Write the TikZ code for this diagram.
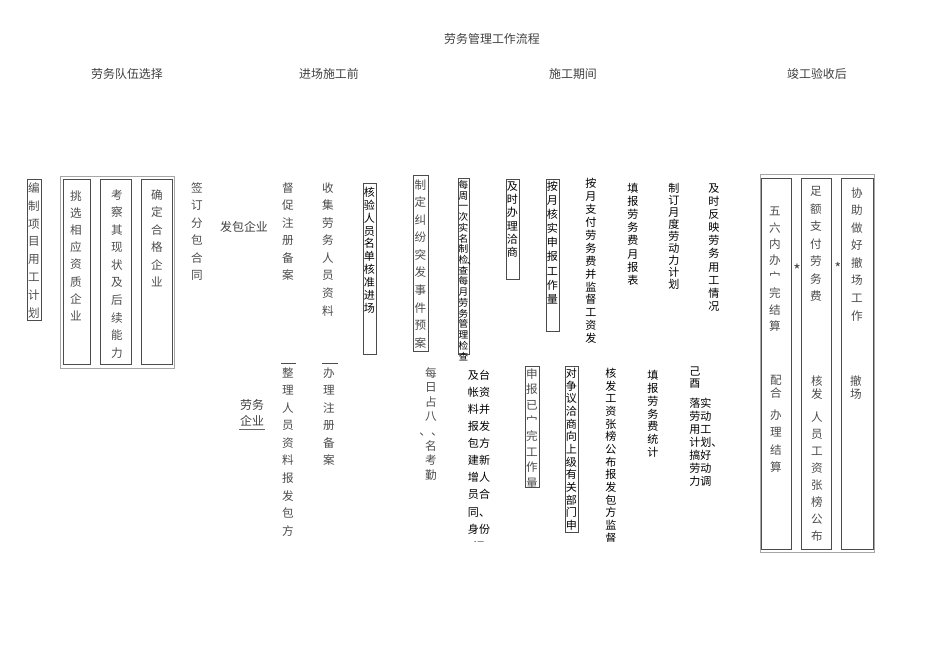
\documentclass[tikz,border=0pt]{standalone}
\usepackage{fontspec}
\setmainfont{Noto Sans CJK SC}
\usetikzlibrary{calc}

% one character per line
\makeatletter
\newcommand{\vchars}[1]{\vchars@a#1\@nil}
\def\vchars@a#1#2\@nil{#1\ifx\relax#2\relax\expandafter\@gobble\else\expandafter\@firstofone\fi{\\\vchars@a#2\@nil}}
\makeatother

\begin{document}
\begin{tikzpicture}[x=0.02cm, y=-0.02cm,
	st/.style={inner sep=0, anchor=north, align=center, text=black!70, font=\fontsize{6.6}{10}\selectfont},
	ht/.style={inner sep=0, anchor=north, align=center, text=black, font=\fontsize{6.3}{7.3}\selectfont},
	pitch/.style={font=\fontsize{6.6}{#1}\selectfont},
	hpitch/.style={font=\fontsize{6.3}{#1}\selectfont},
	hd/.style={inner sep=0, text=black!75, font=\fontsize{6.8}{8}\selectfont},
	frame/.style={draw=black!70, line width=0.5pt},
	outer/.style={draw=black!35, line width=0.5pt}]
	\useasboundingbox (0,0) rectangle (950,672);

	% titles
	\node[hd] (title) at (492,39) {劳务管理工作流程};
	\node[hd] (stage1) at (127,74) {劳务队伍选择};
	\node[hd] (stage2) at (329,74) {进场施工前};
	\node[hd] (stage3) at (573,74) {施工期间};
	\node[hd] (stage4) at (817,74) {竣工验收后};

	% team selection
	\draw[frame] (27,179) rectangle (41,320);
	\node[st, pitch=10.2] (bianzhi) at (34,182) {\vchars{编制项目用工计划}};
	\draw[outer] (60,176) rectangle (174,368);
	\draw[frame] (63,179) rectangle (90,364);
	\draw[frame] (100,179) rectangle (131,364);
	\draw[frame] (141,179) rectangle (172,364);
	\node[st, pitch=9.8] (tiaoxuan) at (76,190) {\vchars{挑选相应资质企业}};
	\node[st] (kaocha) at (117,189) {\vchars{考察其现状及后续能力}};
	\node[st] (queding) at (157,189) {\vchars{确定合格企业}};

	% before entering site
	\node[st] (qianding) at (197,182) {\vchars{签订分包合同}};
	\node[hd] (fabao) at (244,227) {发包企业};
	\node[st] (duchu) at (288,182) {\vchars{督促注册备案}};
	\node[st] (shouji) at (328,182) {\vchars{收集劳务人员资料}};
	\draw[frame] (363,183) rectangle (376,354);
	\node[ht] (heyan) at (369.5,187) {\vchars{核验人员名单核准进场}};

	\node[hd, align=center, font=\fontsize{6.8}{9.1}\selectfont] (laowu) at (252,413) {劳务\\企业};
	\draw[black!60] ($(laowu.south west)+(-1,3)$) -- ($(laowu.south east)+(1,3)$);
	\draw[frame] (281,363) -- (296,363);
	\draw[frame] (322,363) -- (338,363);
	\node[st] (zhengli) at (288,367) {\vchars{整理人员资料报发包方}};
	\node[st] (banli) at (329,367) {\vchars{办理注册备案}};

	% during construction
	\draw[frame] (413,175) rectangle (428,351);
	\node[st] (yuan) at (420.5,179) {\vchars{制定纠纷突发事件预案}};
	\draw[frame] (458,178) rectangle (469,354);
	\node[ht, font=\fontsize{5.5}{6.1}\selectfont] (jiancha) at (463.5,180) {\vchars{每周一次实名制检查每月劳务管理检查}};
	\node[ht, font=\fontsize{5.6}{6}\selectfont] (dun) at (472,262) {、};
	\draw[frame] (506,179) rectangle (519,279);
	\node[ht, hpitch=7.6] (qiashang) at (512.5,181) {\vchars{及时办理洽商}};
	\draw[frame] (546,179) rectangle (559,331);
	\node[ht, hpitch=8] (hesh) at (552.5,181) {\vchars{按月核实申报工作量}};
	\node[ht, hpitch=7.35] (zhifu) at (591,178) {\vchars{按月支付劳务费并监督工资发}};
	\node[ht, hpitch=7.45] (yuebao) at (633,183) {\vchars{填报劳务费月报表}};
	\node[ht, hpitch=6.8] (jihua) at (674,183) {\vchars{制订月度劳动力计划}};
	\node[ht, hpitch=7.5] (fanying) at (714,183) {\vchars{及时反映劳务用工情况}};

	\node[st, pitch=8.3] (kaoqin) at (431,367) {每\\日\\占\\八\\、、\\名\\考\\勤};
	\begin{scope}
		\clip (440,355) rectangle (640,541);
		\node[ht, hpitch=9.7] (taizhang) at (479,370) {及台\\帐资\\料并\\报发\\包方\\建新\\增人\\员合\\同、\\身份\\证};
		\node[ht, hpitch=7.2] (gongbu) at (611,368) {\vchars{核发工资张榜公布报发包方监督}};
	\end{scope}
	\draw[frame] (525,366) rectangle (539,487);
	\node[st, pitch=8.9] (yiwan) at (532,368) {\vchars{申报已宀完工作量}};
	\draw[frame] (565,366) rectangle (578,532);
	\node[ht, hpitch=7.2] (zhengyi) at (571.5,368) {\vchars{对争议洽商向上级有关部门申}};
	\node[ht, hpitch=7.3] (tongji) at (653,370) {\vchars{填报劳务费统计}};
	\node[ht, hpitch=6.8] (jiyou) at (695,367) {己\\酉};
	\node[ht, anchor=north west, align=left, hpitch=7.4] (luoshi) at (689,398) {落实\\劳动\\用工\\计划、\\搞好\\劳动\\力调};

	% after acceptance
	\draw[outer] (760,174) rectangle (874,552);
	\draw[frame] (761,178) rectangle (791,549);
	\draw[frame] (801,178) rectangle (831,549);
	\draw[frame] (841,178) rectangle (873,549);
	\node[st, pitch=9.3] (jiesuan) at (775,207) {\vchars{五六内办宀完结算}};
	\node[hd, font=\fontsize{9}{10}\selectfont] (star1) at (797,270) {*};
	\node[hd, font=\fontsize{8}{10}\selectfont] (star2) at (838,268) {*};
	\node[st, pitch=7.6] (peihe) at (776,375) {\vchars{配合}};
	\node[st] (banjie) at (776,409) {\vchars{办理结算}};
	\node[st] (zue) at (816,186) {\vchars{足额支付劳务费}};
	\node[st, pitch=7.8] (hefa) at (817,375) {\vchars{核发}};
	\node[st, pitch=9.7] (zhangbang) at (817,411) {\vchars{人员工资张榜公布}};
	\node[st] (xiezhu) at (857,187) {\vchars{协助做好撤场工作}};
	\node[st, pitch=7.8] (chechang) at (856,375) {\vchars{撤场}};
\end{tikzpicture}
\end{document}
